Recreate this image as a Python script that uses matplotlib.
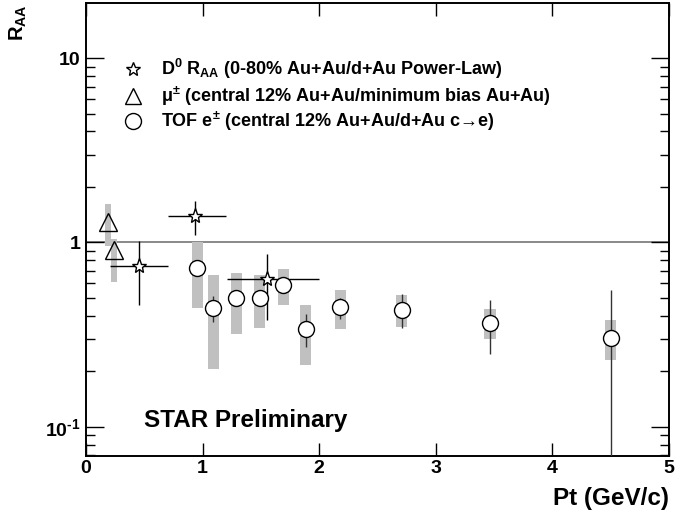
import matplotlib
matplotlib.use('Agg')
import matplotlib.pyplot as plt
from matplotlib.ticker import FixedLocator, FixedFormatter, LogLocator, NullFormatter, NullLocator

plt.rcParams['font.family'] = ['Liberation Sans', 'DejaVu Sans']
plt.rcParams['font.weight'] = 'bold'
plt.rcParams['mathtext.fontset'] = 'custom'
plt.rcParams['mathtext.rm'] = 'Liberation Sans:bold'
plt.rcParams['mathtext.bf'] = 'Liberation Sans:bold'
plt.rcParams['mathtext.it'] = 'Liberation Sans:bold'
plt.rcParams['mathtext.sf'] = 'Liberation Sans:bold'
plt.rcParams['mathtext.default'] = 'bf'

# ---- D0 RAA (stars) ----
d0_pt = [0.457, 0.935, 1.55]
d0_raa = [0.747, 1.39, 0.63]
d0_pt_lo = [0.206, 0.706, 1.207]
d0_pt_hi = [0.700, 1.200, 2.000]
d0_raa_lo = [0.456, 1.10, 0.379]
d0_raa_hi = [1.025, 1.686, 0.869]

# ---- muons (triangles) ----
mu_pt = [0.191, 0.237]
mu_raa = [1.29, 0.912]
mu_sys_lo = [0.96, 0.61]
mu_sys_hi = [1.62, 1.05]

# ---- TOF electrons (circles) ----
e_pt = [0.955, 1.092, 1.29, 1.49, 1.69, 1.884, 2.18, 2.707, 3.465, 4.50]
e_raa = [0.723, 0.441, 0.502, 0.502, 0.588, 0.340, 0.445, 0.433, 0.368, 0.305]
e_stat_lo = [0.70, 0.371, 0.48, 0.48, 0.57, 0.272, 0.387, 0.344, 0.247, 0.001]
e_stat_hi = [0.75, 0.510, 0.52, 0.52, 0.61, 0.407, 0.500, 0.528, 0.486, 0.555]
e_sys_lo = [0.443, 0.206, 0.318, 0.344, 0.457, 0.217, 0.338, 0.348, 0.298, 0.230]
e_sys_hi = [1.000, 0.669, 0.686, 0.663, 0.720, 0.460, 0.550, 0.521, 0.438, 0.382]

y_ticks = [0.1, 1, 10]
y_ticklabels = ['10$^{\\text{-1}}$', '1', '10']
x_ticks = [0, 1, 2, 3, 4, 5]
x_ticklabels = ['0', '1', '2', '3', '4', '5']

legend_labels = [
    'D$^{0}$ R$_{AA}$ (0-80% Au+Au/d+Au Power-Law)',
    '\u03bc$^{\u00b1}$ (central 12% Au+Au/minimum bias Au+Au)',
    'TOF e$^{\u00b1}$ (central 12% Au+Au/d+Au c\u2192e)',
]

BOX = '#c0c0c0'

fig = plt.figure(figsize=(6.96, 5.17), dpi=100)
ax = fig.add_axes([86 / 696, 1 - 456 / 517, (669 - 86) / 696, (456 - 3) / 517])
ax.set_yscale('log')
ax.set_xlim(0, 5)
ax.set_ylim(0.0695, 19.9)

# reference line at 1
ax.axhline(1.0, color='#808080', lw=1.3, zorder=1)

# systematic boxes
ax.bar(mu_pt, [h - l for l, h in zip(mu_sys_lo, mu_sys_hi)], bottom=mu_sys_lo,
       width=0.05, color=BOX, edgecolor='none', zorder=2)
ax.bar(e_pt, [h - l for l, h in zip(e_sys_lo, e_sys_hi)], bottom=e_sys_lo,
       width=0.095, color=BOX, edgecolor='none', zorder=2)

# electron stat errors + markers
ax.errorbar(e_pt, e_raa,
            yerr=[[r - l for r, l in zip(e_raa, e_stat_lo)],
                  [h - r for r, h in zip(e_raa, e_stat_hi)]],
            fmt='none', ecolor='#333333', elinewidth=1.0, capsize=0, zorder=3)
ax.plot(e_pt, e_raa, 'o', ms=11.5, mfc='white', mec='black', mew=1.0, ls='none', zorder=5)

# muon markers
ax.plot(mu_pt, mu_raa, '^', ms=13, mfc='none', mec='black', mew=1.0, ls='none', zorder=5)

# D0 stars with errors
ax.errorbar(d0_pt, d0_raa,
            xerr=[[p - l for p, l in zip(d0_pt, d0_pt_lo)],
                  [h - p for p, h in zip(d0_pt, d0_pt_hi)]],
            yerr=[[r - l for r, l in zip(d0_raa, d0_raa_lo)],
                  [h - r for r, h in zip(d0_raa, d0_raa_hi)]],
            fmt='none', ecolor='black', elinewidth=1.0, capsize=0, zorder=4)
ax.plot(d0_pt, d0_raa, '*', ms=11, mfc='white', mec='black', mew=1.0, ls='none', zorder=6)

# axes styling
for s in ax.spines.values():
    s.set_linewidth(1.4)
ax.xaxis.set_major_locator(FixedLocator(x_ticks))
ax.xaxis.set_major_formatter(FixedFormatter(x_ticklabels))
ax.xaxis.set_minor_locator(NullLocator())
ax.yaxis.set_major_locator(FixedLocator(y_ticks))
ax.yaxis.set_major_formatter(FixedFormatter(y_ticklabels))
ax.yaxis.set_minor_locator(LogLocator(base=10, subs=[2, 3, 4, 5, 6, 7, 8, 9]))
ax.yaxis.set_minor_formatter(NullFormatter())
ax.tick_params(axis='both', which='both', direction='in', top=True, right=True,
               labelsize=14, width=1.0)
ax.tick_params(axis='x', which='major', length=9.5, pad=3)
ax.tick_params(axis='y', which='major', length=13, pad=4)
ax.tick_params(axis='y', which='minor', length=6.5)
for lab in ax.get_xticklabels() + ax.get_yticklabels():
    lab.set_fontweight('bold')

# legend (manual, ROOT style)
leg_markers = ['*', '^', 'o']
leg_ms = [10, 12, 11.5]
leg_y = [69, 96, 121]
for m, ms, yy, lab in zip(leg_markers, leg_ms, leg_y, legend_labels):
    fy = 1 - yy / 517
    fig.lines.append(plt.Line2D([133 / 696], [fy], marker=m, ms=ms, mfc='white',
                                mec='black', mew=1.0, ls='none',
                                transform=fig.transFigure))
    fig.text(161 / 696, fy, lab, fontsize=13, fontweight='bold', va='center', ha='left')

fig.text(144 / 696, 1 - 427 / 517, 'STAR Preliminary', fontsize=17.5,
         fontweight='bold', ha='left', va='baseline')
fig.text(669 / 696, 1 - 505 / 517, 'Pt (GeV/c)', fontsize=17.5,
         fontweight='bold', ha='right', va='baseline')
fig.text(18 / 696, 1 - 23 / 517, 'R$_{AA}$', fontsize=14.5, fontweight='bold',
         rotation=90, ha='center', va='center')

fig.savefig('out.png', dpi=100)
